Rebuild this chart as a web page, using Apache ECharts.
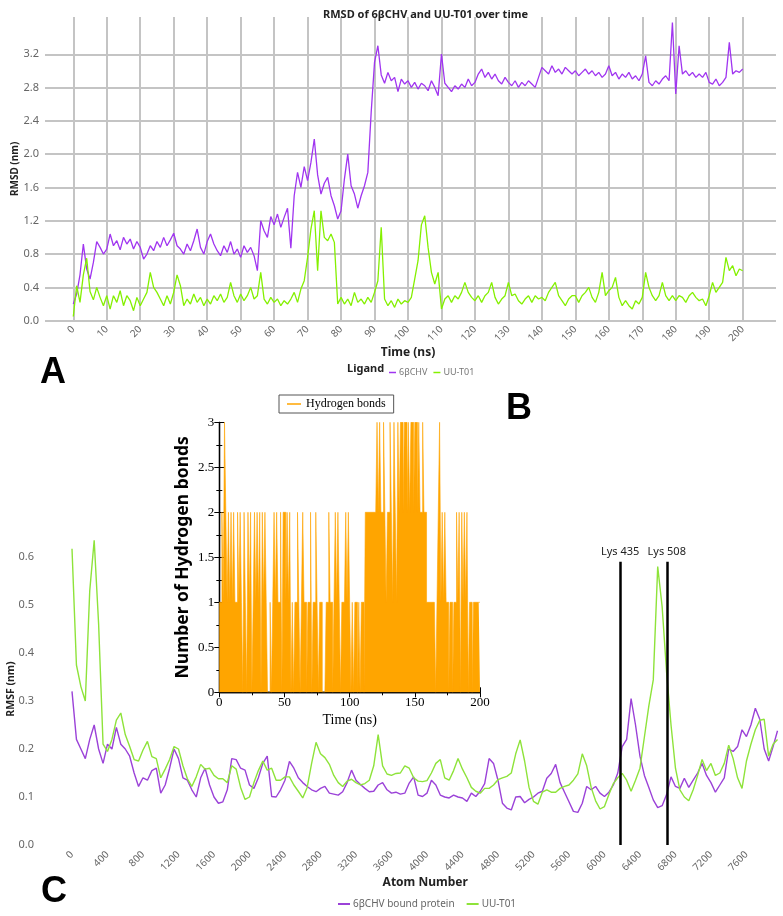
<!DOCTYPE html>
<html>
<head>
<meta charset="utf-8">
<script src="https://cdn.jsdelivr.net/npm/echarts@6/dist/echarts.min.js"></script>
<style>
html, body { margin: 0; padding: 0; background: #fff; }
#chart { width: 783px; height: 916px; }
</style>
</head>
<body>
<div id="chart"></div>
<script>
// A: RMSD over time (one value per ns, 0..200)
var rmsdLigand6b = [
  0.20, 0.32, 0.55, 0.92, 0.62, 0.50, 0.70, 0.95, 0.88, 0.80,
  0.86, 1.04, 0.90, 0.96, 0.85, 1.00, 0.92, 0.98, 0.86, 0.95,
  0.88, 0.74, 0.80, 0.90, 0.84, 0.95, 0.88, 1.00, 0.90, 0.97,
  1.05, 0.90, 0.86, 0.80, 0.92, 0.84, 0.96, 1.10, 0.88, 0.80,
  0.95, 1.04, 0.92, 0.84, 0.78, 0.90, 0.82, 0.95, 0.80, 0.86,
  0.76, 0.90, 0.82, 0.88, 0.78, 0.60, 1.20, 1.08, 1.00, 1.25,
  1.15, 1.28, 1.12, 1.24, 1.35, 0.87, 1.50, 1.78, 1.60, 1.85,
  1.68, 1.90, 2.18, 1.75, 1.52, 1.65, 1.72, 1.50, 1.38, 1.22,
  1.32, 1.70, 2.00, 1.62, 1.52, 1.35, 1.50, 1.62, 1.78, 2.50,
  3.10, 3.30, 2.95, 2.85, 2.98, 2.88, 2.92, 2.75, 2.90, 2.84,
  2.88, 2.80, 2.86, 2.78, 2.85, 2.82, 2.76, 2.88, 2.80, 2.70,
  3.20, 2.85, 2.80, 2.75, 2.82, 2.78, 2.84, 2.80, 2.90, 2.82,
  2.86, 2.96, 3.02, 2.92, 2.98, 2.90, 2.96, 2.88, 2.84, 2.92,
  2.86, 2.82, 2.88, 2.80, 2.86, 2.82, 2.88, 2.84, 2.80, 2.92,
  3.04, 3.00, 2.96, 3.06, 2.98, 3.02, 2.96, 3.04, 3.00, 2.96,
  3.00, 2.94, 2.98, 3.02, 2.96, 3.00, 2.94, 2.98, 2.92, 2.96,
  3.06, 2.94, 2.98, 2.90, 2.96, 2.92, 2.98, 2.90, 2.94, 2.88,
  2.96, 3.18, 2.86, 2.82, 2.88, 2.84, 2.90, 2.94, 2.88, 3.58,
  2.72, 3.30, 2.96, 3.00, 2.94, 2.98, 2.92, 2.96, 2.92, 2.98,
  2.86, 2.84, 2.90, 2.82, 2.86, 2.92, 3.34, 2.96, 3.00, 2.98,
  3.02
];
var rmsdLigandUU = [
  0.05, 0.42, 0.22, 0.55, 0.75, 0.35, 0.25, 0.40, 0.28, 0.18,
  0.30, 0.14, 0.30, 0.22, 0.36, 0.18, 0.30, 0.24, 0.12, 0.28,
  0.18, 0.26, 0.34, 0.58, 0.40, 0.34, 0.26, 0.18, 0.30, 0.20,
  0.34, 0.55, 0.42, 0.18, 0.26, 0.20, 0.32, 0.22, 0.28, 0.18,
  0.26, 0.20, 0.30, 0.24, 0.32, 0.22, 0.28, 0.46, 0.30, 0.22,
  0.32, 0.24, 0.30, 0.40, 0.26, 0.30, 0.58, 0.26, 0.20, 0.28,
  0.22, 0.26, 0.18, 0.24, 0.20, 0.26, 0.34, 0.22, 0.38, 0.48,
  0.76, 1.10, 1.32, 0.60, 1.32, 1.00, 0.96, 1.04, 0.94, 0.20,
  0.28, 0.20, 0.26, 0.18, 0.34, 0.22, 0.26, 0.20, 0.28, 0.22,
  0.34, 0.48, 1.12, 0.26, 0.18, 0.24, 0.16, 0.26, 0.20, 0.24,
  0.22, 0.28, 0.50, 0.72, 1.15, 1.26, 0.88, 0.58, 0.44, 0.58,
  0.14, 0.26, 0.30, 0.22, 0.30, 0.26, 0.34, 0.46, 0.34, 0.28,
  0.24, 0.30, 0.22, 0.30, 0.34, 0.46, 0.28, 0.20, 0.26, 0.30,
  0.46, 0.30, 0.32, 0.24, 0.20, 0.26, 0.30, 0.22, 0.30, 0.26,
  0.28, 0.24, 0.34, 0.40, 0.46, 0.30, 0.24, 0.18, 0.26, 0.30,
  0.30, 0.22, 0.30, 0.34, 0.40, 0.28, 0.22, 0.34, 0.58, 0.30,
  0.36, 0.40, 0.52, 0.28, 0.18, 0.24, 0.18, 0.14, 0.24, 0.20,
  0.28, 0.58, 0.40, 0.30, 0.24, 0.30, 0.46, 0.30, 0.24, 0.30,
  0.24, 0.30, 0.28, 0.22, 0.30, 0.34, 0.28, 0.24, 0.26, 0.18,
  0.30, 0.46, 0.34, 0.40, 0.46, 0.76, 0.60, 0.66, 0.54, 0.62,
  0.60
];

// B: number of hydrogen bonds (one value per ns, 0..200)
var hbondCount = [
  1, 1, 2, 1, 3, 2, 1, 2, 1, 2,
  1, 2, 1, 1, 2, 1, 2, 1, 0, 2,
  1, 0, 2, 1, 2, 0, 1, 2, 1, 2,
  1, 2, 0, 2, 1, 2, 1, 0, 0, 1,
  0, 1, 2, 1, 2, 1, 1, 2, 0, 2,
  2, 1, 2, 1, 2, 0, 1, 0, 1, 1,
  2, 1, 0, 1, 2, 1, 1, 0, 1, 1,
  2, 0, 1, 1, 2, 1, 0, 1, 1, 0,
  0, 0, 1, 1, 2, 1, 1, 0, 1, 2,
  1, 2, 1, 0, 1, 1, 1, 2, 1, 2,
  1, 0, 1, 0, 1, 1, 0, 1, 0, 1,
  1, 0, 2, 2, 2, 2, 2, 2, 2, 2,
  2, 3, 2, 3, 2, 2, 3, 2, 1, 2,
  2, 3, 2, 1, 3, 2, 1, 3, 2, 3,
  3, 2, 3, 3, 2, 3, 2, 3, 3, 2,
  3, 3, 2, 3, 2, 2, 3, 2, 2, 1,
  1, 1, 1, 1, 1, 1, 0, 1, 2, 3,
  1, 2, 1, 2, 1, 1, 0, 1, 1, 0,
  1, 1, 2, 1, 2, 0, 2, 1, 2, 1,
  2, 0, 1, 1, 0, 1, 1, 1, 1, 1,
  1
];

// C: RMSF per atom (one value every 50 atoms, 0..7950)
var rmsfBound6b = [
  0.320, 0.220, 0.200, 0.180, 0.220, 0.250, 0.200, 0.170, 0.210, 0.200,
  0.245, 0.210, 0.200, 0.185, 0.150, 0.122, 0.140, 0.135, 0.155, 0.160,
  0.108, 0.125, 0.160, 0.200, 0.180, 0.140, 0.135, 0.115, 0.100, 0.140,
  0.160, 0.125, 0.100, 0.087, 0.090, 0.115, 0.180, 0.178, 0.160, 0.156,
  0.125, 0.118, 0.140, 0.170, 0.185, 0.101, 0.100, 0.115, 0.135, 0.174,
  0.160, 0.140, 0.130, 0.122, 0.115, 0.111, 0.118, 0.122, 0.108, 0.106,
  0.104, 0.111, 0.130, 0.156, 0.135, 0.126, 0.118, 0.111, 0.112, 0.125,
  0.130, 0.115, 0.108, 0.110, 0.106, 0.108, 0.129, 0.142, 0.104, 0.101,
  0.108, 0.135, 0.125, 0.104, 0.100, 0.098, 0.104, 0.100, 0.098, 0.091,
  0.108, 0.101, 0.112, 0.128, 0.180, 0.170, 0.135, 0.087, 0.077, 0.073,
  0.100, 0.101, 0.088, 0.095, 0.100, 0.108, 0.112, 0.139, 0.149, 0.168,
  0.130, 0.110, 0.090, 0.070, 0.068, 0.087, 0.122, 0.115, 0.122, 0.108,
  0.101, 0.110, 0.125, 0.150, 0.205, 0.220, 0.305, 0.250, 0.185, 0.145,
  0.120, 0.094, 0.078, 0.082, 0.105, 0.142, 0.122, 0.118, 0.139, 0.120,
  0.135, 0.150, 0.170, 0.145, 0.130, 0.110, 0.125, 0.140, 0.200, 0.195,
  0.205, 0.240, 0.226, 0.250, 0.285, 0.262, 0.200, 0.175, 0.205, 0.238
];
var rmsfUU = [
  0.617, 0.375, 0.330, 0.300, 0.530, 0.635, 0.460, 0.210, 0.195, 0.220,
  0.260, 0.275, 0.230, 0.205, 0.178, 0.175, 0.198, 0.216, 0.184, 0.180,
  0.140, 0.158, 0.178, 0.205, 0.200, 0.165, 0.138, 0.122, 0.142, 0.168,
  0.158, 0.160, 0.145, 0.138, 0.138, 0.130, 0.165, 0.158, 0.120, 0.095,
  0.100, 0.130, 0.155, 0.175, 0.156, 0.160, 0.135, 0.135, 0.142, 0.142,
  0.125, 0.112, 0.098, 0.120, 0.170, 0.214, 0.190, 0.182, 0.168, 0.145,
  0.130, 0.122, 0.133, 0.137, 0.130, 0.125, 0.128, 0.135, 0.165, 0.230,
  0.165, 0.148, 0.145, 0.149, 0.150, 0.165, 0.160, 0.140, 0.133, 0.132,
  0.134, 0.150, 0.170, 0.178, 0.140, 0.135, 0.155, 0.180, 0.158, 0.140,
  0.120, 0.112, 0.108, 0.118, 0.118, 0.125, 0.136, 0.140, 0.143, 0.150,
  0.190, 0.219, 0.175, 0.120, 0.091, 0.085, 0.110, 0.115, 0.110, 0.110,
  0.118, 0.122, 0.125, 0.135, 0.148, 0.190, 0.165, 0.120, 0.092, 0.075,
  0.080, 0.105, 0.128, 0.140, 0.149, 0.135, 0.112, 0.135, 0.160, 0.225,
  0.290, 0.344, 0.580, 0.496, 0.360, 0.250, 0.160, 0.115, 0.100, 0.092,
  0.115, 0.145, 0.178, 0.155, 0.170, 0.145, 0.150, 0.170, 0.208, 0.180,
  0.140, 0.118, 0.175, 0.210, 0.240, 0.260, 0.262, 0.185, 0.210, 0.220
];
var lysMarks = [
  { name: 'Lys 435', atom: 6176 },
  { name: 'Lys 508', atom: 6702 }
];

var nsIndex = Array.from({ length: 201 }, function (d, i) { return i; });
var atomIndex = Array.from({ length: 160 }, function (d, i) { return i * 50; });

function pairs(xs, ys) {
  return xs.map(function (x, i) { return [x, ys[i]]; });
}
function plain(v) { return String(v); }

var gridGrey = '#c4c4c4';
var labelGrey = '#666';
var sans = 'Noto Sans';
var serif = 'Liberation Serif';

var chart = echarts.init(document.getElementById('chart'), null, { renderer: 'canvas' });

var option = {
  animation: false,
  backgroundColor: '#fff',
  title: {
    text: 'RMSD of 6\u03b2CHV and UU-T01 over time',
    left: 318, top: 4,
    textStyle: { fontSize: 11, fontWeight: 'bold', color: '#222', fontFamily: sans }
  },
  grid: [
    { left: 73.3, top: 17, width: 669.4, height: 303.7, outerBoundsMode: 'none' },
    { left: 45, top: 54.3, width: 731, height: 266.4, outerBoundsMode: 'none' },
    { left: 219.3, top: 422.3, width: 260.7, height: 270, outerBoundsMode: 'none' },
    { left: 72, top: 533, width: 706.4, height: 312, outerBoundsMode: 'none' }
  ],
  xAxis: [
    {
      gridIndex: 0, type: 'value', min: 0, max: 200, interval: 10,
      axisLine: { show: false }, axisTick: { show: false },
      splitLine: { show: true, lineStyle: { color: gridGrey, width: 2 } },
      axisLabel: { rotate: 45, margin: 7, fontSize: 10, color: labelGrey, fontFamily: sans, formatter: plain },
      name: 'Time (ns)', nameLocation: 'middle', nameGap: 26, nameMoveOverlap: false,
      nameTextStyle: { fontSize: 12, fontWeight: 'bold', color: '#222', fontFamily: sans }
    },
    { gridIndex: 1, type: 'value', min: 0, max: 1, show: false },
    {
      gridIndex: 2, type: 'value', min: 0, max: 200, interval: 50,
      axisLine: { lineStyle: { color: '#000', width: 1.3 } },
      axisTick: { inside: true, length: 5, lineStyle: { color: '#000' } },
      minorTick: { show: true, splitNumber: 2, length: 3, lineStyle: { color: '#000' } },
      splitLine: { show: false },
      axisLabel: { margin: 4, fontSize: 13, color: '#000', fontFamily: serif, formatter: plain },
      name: 'Time (ns)', nameLocation: 'middle', nameGap: 21, nameMoveOverlap: false,
      nameTextStyle: { fontSize: 14, color: '#000', fontFamily: serif }
    },
    {
      gridIndex: 2, type: 'value', min: 0, max: 200, interval: 50, position: 'top',
      axisLine: { lineStyle: { color: '#000', width: 1.3 } },
      axisTick: { inside: true, length: 5, lineStyle: { color: '#000' } },
      minorTick: { show: true, splitNumber: 2, length: 3, lineStyle: { color: '#000' } },
      splitLine: { show: false }, axisLabel: { show: false }
    },
    {
      gridIndex: 3, type: 'value', min: 0, max: 7960, interval: 400,
      axisLine: { show: false }, axisTick: { show: false }, splitLine: { show: false },
      axisLabel: { rotate: 45, margin: 8, fontSize: 10, color: labelGrey, fontFamily: sans, showMaxLabel: false, formatter: plain },
      name: 'Atom Number', nameLocation: 'middle', nameGap: 32, nameMoveOverlap: false,
      nameTextStyle: { fontSize: 12, fontWeight: 'bold', color: '#222', fontFamily: sans }
    }
  ],
  yAxis: [
    {
      gridIndex: 0, type: 'value', min: 0, max: 3.645,
      axisLine: { show: false }, axisTick: { show: false }, axisLabel: { show: false },
      splitLine: { show: false },
      name: 'RMSD (nm)', nameLocation: 'middle', nameGap: 53, nameMoveOverlap: false,
      nameTextStyle: { fontSize: 10, fontWeight: 'bold', color: '#222', fontFamily: sans }
    },
    {
      gridIndex: 1, type: 'value', min: 0, max: 3.2, interval: 0.4,
      axisLine: { show: false }, axisTick: { show: false },
      splitLine: { show: true, lineStyle: { color: gridGrey, width: 2 } },
      axisLabel: {
        margin: 6, fontSize: 11, color: labelGrey, fontFamily: sans,
        formatter: function (v) { return v.toFixed(1); }
      }
    },
    {
      gridIndex: 2, type: 'value', min: 0, max: 3, interval: 0.5,
      axisLine: { lineStyle: { color: '#000', width: 1.3 } },
      axisTick: { inside: true, length: 5, lineStyle: { color: '#000' } },
      minorTick: { show: true, splitNumber: 2, length: 3, lineStyle: { color: '#000' } },
      splitLine: { show: false },
      axisLabel: { margin: 5, fontSize: 13, color: '#000', fontFamily: serif, formatter: plain },
      name: 'Number of Hydrogen bonds', nameLocation: 'middle', nameGap: 27, nameMoveOverlap: false,
      nameTextStyle: { fontSize: 17.5, fontWeight: 'bold', color: '#000', fontFamily: sans }
    },
    {
      gridIndex: 2, type: 'value', min: 0, max: 3, interval: 0.5, position: 'right',
      axisLine: { lineStyle: { color: '#000', width: 1.3 } },
      axisTick: { inside: true, length: 5, lineStyle: { color: '#000' } },
      minorTick: { show: true, splitNumber: 2, length: 3, lineStyle: { color: '#000' } },
      splitLine: { show: false }, axisLabel: { show: false }
    },
    {
      gridIndex: 3, type: 'value', min: 0, max: 0.65, interval: 0.1,
      axisLine: { show: false }, axisTick: { show: false }, splitLine: { show: false },
      axisLabel: {
        margin: 38, fontSize: 11, color: labelGrey, fontFamily: sans, showMaxLabel: false,
        formatter: function (v) { return v.toFixed(1); }
      },
      name: 'RMSF (nm)', nameLocation: 'middle', nameGap: 55, nameMoveOverlap: false,
      nameTextStyle: { fontSize: 10.5, fontWeight: 'bold', color: '#222', fontFamily: sans }
    }
  ],
  legend: [
    {
      data: ['6\u03b2CHV', 'UU-T01'], left: 384, top: 363,
      icon: 'rect', itemWidth: 7, itemHeight: 1.5, itemGap: 6,
      textStyle: { fontSize: 9, color: '#777', fontFamily: sans, padding: [0, 0, 0, -2] }
    },
    {
      data: ['Hydrogen bonds'], left: 279, top: 395,
      icon: 'rect', itemWidth: 14, itemHeight: 1.5,
      borderColor: '#555', borderWidth: 1, padding: [3, 8, 3, 8],
      textStyle: { fontSize: 12, color: '#000', fontFamily: serif }
    },
    {
      data: ['6\u03b2CHV bound protein', 'UU-T01 '], left: 333, top: 894,
      icon: 'rect', itemWidth: 12, itemHeight: 2, itemGap: 12,
      textStyle: { fontSize: 10, color: '#666', fontFamily: sans, padding: [0, 0, 0, -2] }
    }
  ],
  graphic: [
    { type: 'text', left: 347, top: 363, style: { text: 'Ligand', font: 'bold 11px "Noto Sans"', fill: '#222' } },
    { type: 'text', left: 40, top: 355, style: { text: 'A', font: 'bold 36px "Liberation Sans"', fill: '#000' } },
    { type: 'text', left: 506, top: 391, style: { text: 'B', font: 'bold 36px "Liberation Sans"', fill: '#000' } },
    { type: 'text', left: 41, top: 874, style: { text: 'C', font: 'bold 36px "Liberation Sans"', fill: '#000' } }
  ],
  series: [
    {
      name: '6\u03b2CHV', type: 'line', xAxisIndex: 0, yAxisIndex: 0,
      data: pairs(nsIndex, rmsdLigand6b), showSymbol: false,
      itemStyle: { color: '#a035f0' }, lineStyle: { color: '#a035f0', width: 1.3 }
    },
    {
      name: 'UU-T01', type: 'line', xAxisIndex: 0, yAxisIndex: 0,
      data: pairs(nsIndex, rmsdLigandUU), showSymbol: false,
      itemStyle: { color: '#84f000' }, lineStyle: { color: '#84f000', width: 1.3 }
    },
    {
      name: 'Hydrogen bonds', type: 'line', xAxisIndex: 2, yAxisIndex: 2,
      data: pairs(nsIndex, hbondCount), step: 'end', showSymbol: false,
      itemStyle: { color: '#ffa500' }, lineStyle: { color: '#ffa500', width: 0.6 },
      areaStyle: { color: '#ffa500', opacity: 1 }
    },
    {
      name: '6\u03b2CHV bound protein', type: 'line', xAxisIndex: 4, yAxisIndex: 4,
      data: pairs(atomIndex, rmsfBound6b), showSymbol: false,
      itemStyle: { color: '#9b42d8' }, lineStyle: { color: '#9b42d8', width: 1.4 },
      markLine: {
        silent: true, symbol: 'none',
        lineStyle: { color: '#000', width: 2.5, type: 'solid' },
        label: { show: true, position: 'end', distance: 4, fontSize: 11, color: '#222', fontFamily: sans, formatter: '{b}' },
        data: lysMarks.map(function (m) {
          return [
            { name: m.name, coord: [m.atom, 0] },
            { coord: [m.atom, 0.59] }
          ];
        })
      }
    },
    {
      name: 'UU-T01 ', type: 'line', xAxisIndex: 4, yAxisIndex: 4,
      data: pairs(atomIndex, rmsfUU), showSymbol: false,
      itemStyle: { color: '#8ee33a' }, lineStyle: { color: '#8ee33a', width: 1.4 }
    }
  ]
};

chart.setOption(option);
</script>
</body>
</html>
